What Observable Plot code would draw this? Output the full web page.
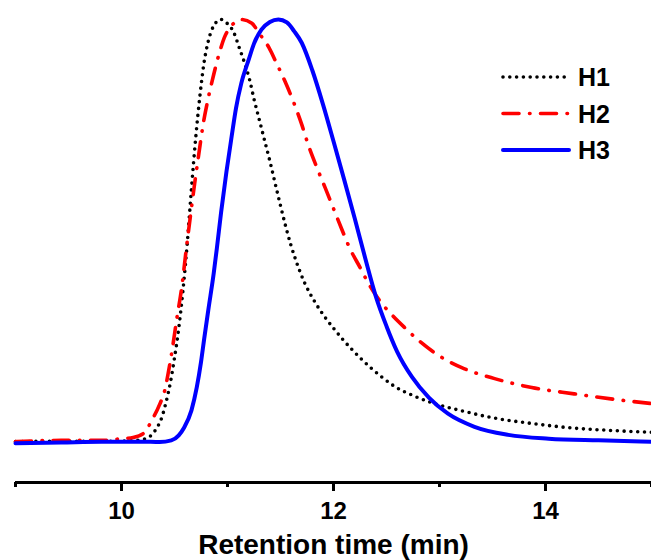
<!DOCTYPE html>
<html>
<head>
<meta charset="utf-8">
<script src="https://cdn.jsdelivr.net/npm/d3@7"></script>
<script src="https://cdn.jsdelivr.net/npm/@observablehq/plot@0.6"></script>
<style>
  html, body { margin: 0; padding: 0; background: #fff; }
  #wrap { position: relative; width: 651px; height: 560px; overflow: hidden; }
  #legend { position: absolute; left: 495px; top: 55px; }
  text { font-family: "Liberation Sans", Arial, sans-serif; }
</style>
</head>
<body>
<div id="wrap"></div>
<script>
// ---- data ----
const seriesNames = ["H1", "H2", "H3"];
const seriesColors = ["#000000", "#ff0000", "#0000ff"];
const seriesDash = ["0 6.8", "16 10.5 0.5 10.5", null];

const h1Time = [9.0, 9.5, 9.9, 10.1, 10.2, 10.28, 10.33, 10.38, 10.42, 10.46, 10.50, 10.54, 10.58, 10.62, 10.66, 10.70, 10.74, 10.78, 10.82, 10.87, 10.94, 11.00, 11.06, 11.11, 11.16, 11.21, 11.25, 11.30, 11.35, 11.40, 11.45, 11.50, 11.55, 11.60, 11.65, 11.73, 11.82, 11.92, 12.01, 12.09, 12.26, 12.45, 12.58, 12.76, 12.95, 13.21, 13.49, 13.87, 14.22, 14.65, 15.0];
const h1Signal = [0.002, 0.003, 0.003, 0.004, 0.007, 0.017, 0.033, 0.059, 0.095, 0.14, 0.20, 0.27, 0.36, 0.47, 0.60, 0.72, 0.82, 0.90, 0.95, 0.985, 1.0, 0.99, 0.969, 0.934, 0.898, 0.856, 0.812, 0.763, 0.714, 0.665, 0.612, 0.56, 0.51, 0.465, 0.427, 0.376, 0.334, 0.296, 0.267, 0.243, 0.198, 0.156, 0.132, 0.110, 0.092, 0.075, 0.059, 0.045, 0.035, 0.028, 0.024];

const h2Time = [9.0, 9.43, 9.81, 10.0, 10.11, 10.22, 10.28, 10.36, 10.41, 10.44, 10.48, 10.52, 10.57, 10.61, 10.65, 10.69, 10.73, 10.77, 10.82, 10.87, 10.92, 10.97, 11.04, 11.13, 11.23, 11.30, 11.39, 11.46, 11.54, 11.62, 11.70, 11.76, 11.84, 11.92, 12.00, 12.08, 12.15, 12.25, 12.33, 12.43, 12.55, 12.67, 12.80, 12.99, 13.21, 13.52, 13.87, 14.27, 14.65, 15.0];
const h2Signal = [0.002, 0.005, 0.005, 0.009, 0.012, 0.024, 0.050, 0.090, 0.125, 0.163, 0.222, 0.29, 0.37, 0.455, 0.535, 0.612, 0.683, 0.752, 0.816, 0.870, 0.918, 0.957, 0.986, 1.0, 0.991, 0.967, 0.934, 0.898, 0.855, 0.807, 0.752, 0.705, 0.652, 0.603, 0.553, 0.503, 0.461, 0.414, 0.376, 0.337, 0.302, 0.272, 0.242, 0.206, 0.177, 0.151, 0.130, 0.115, 0.102, 0.092];

const h3Time = [9.0, 9.43, 9.81, 10.19, 10.36, 10.47, 10.54, 10.59, 10.66, 10.71, 10.75, 10.78, 10.82, 10.87, 10.90, 10.94, 10.99, 11.04, 11.08, 11.13, 11.20, 11.25, 11.32, 11.40, 11.48, 11.56, 11.63, 11.70, 11.80, 11.90, 12.00, 12.10, 12.20, 12.30, 12.40, 12.50, 12.60, 12.74, 12.90, 13.08, 13.33, 13.65, 14.03, 14.50, 15.0];
const h3Signal = [-0.002, 0.0, 0.002, 0.002, 0.001, 0.005, 0.017, 0.035, 0.076, 0.130, 0.19, 0.245, 0.315, 0.40, 0.46, 0.545, 0.64, 0.725, 0.79, 0.849, 0.905, 0.943, 0.976, 0.994, 1.0, 0.993, 0.972, 0.945, 0.88, 0.80, 0.712, 0.622, 0.530, 0.435, 0.345, 0.275, 0.215, 0.155, 0.106, 0.068, 0.037, 0.018, 0.009, 0.005, 0.002];

const xDomain = [9, 15];
const yDomain = [-0.0946, 1];
const majorTicks = [10, 12, 14];
const minorTicks = [9, 11, 13, 15];
const xLabel = "Retention time (min)";

// ---- build ----
const times = [h1Time, h2Time, h3Time];
const signals = [h1Signal, h2Signal, h3Signal];
const series = seriesNames.map((name, i) => ({
  name, color: seriesColors[i], dash: seriesDash[i],
  data: times[i].map((t, j) => ({t, v: signals[i][j]}))
}));

const font = '"Liberation Sans", Arial, sans-serif';

const chart = Plot.plot({
  width: 651,
  height: 560,
  marginLeft: 15,
  marginRight: 0,
  marginTop: 19,
  marginBottom: 78,
  style: {fontFamily: font, background: "#fff", overflow: "visible"},
  x: {domain: xDomain, axis: null},
  y: {domain: yDomain, axis: null},
  marks: [
    Plot.ruleY([yDomain[0]], {stroke: "#000", strokeWidth: 3}),
    Plot.axisX({ticks: minorTicks, tickSize: 5, strokeWidth: 3, text: null, label: null}),
    Plot.axisX({ticks: majorTicks, tickSize: 9, strokeWidth: 3, tickPadding: 10,
      fontSize: 24, fontWeight: "bold", tickFormat: d3.format("d"),
      label: xLabel, labelAnchor: "center", labelArrow: "none", labelOffset: 71}),
    ...series.map(s => Plot.line(s.data, {
      x: "t", y: "v", stroke: s.color, strokeWidth: s.name === "H3" ? 4 : 3.6,
      strokeDasharray: s.dash, strokeLinecap: "round", strokeLinejoin: "round",
      curve: "monotone-x"
    }))
  ]
});

const wrap = document.getElementById("wrap");
wrap.appendChild(chart);

// style the axis label
d3.select(chart).selectAll('g[aria-label="x-axis label"] text')
  .attr("font-size", 28).attr("font-weight", "bold").attr("fill", "#000");
d3.select(chart).selectAll('g[aria-label="x-axis tick label"]').attr("fill", "#000");

// ---- legend ----
const rowGap = 36.5;
const leg = d3.select(wrap).append("svg")
  .attr("id", "legend")
  .attr("width", 156).attr("height", 120);
series.forEach((s, i) => {
  const g = leg.append("g").attr("transform", `translate(0, ${22 + i * rowGap})`);
  g.append("line").attr("x1", 8).attr("x2", 74).attr("y1", 0).attr("y2", 0)
    .attr("stroke", s.color).attr("stroke-width", s.name === "H3" ? 4 : 3.6)
    .attr("stroke-linecap", "round")
    .attr("stroke-dasharray", s.dash);
  g.append("text").attr("x", 83).attr("y", 0).attr("dy", "0.36em")
    .attr("font-size", 25).attr("font-weight", "bold").attr("fill", "#000")
    .attr("font-family", font)
    .text(s.name);
});
</script>
</body>
</html>
